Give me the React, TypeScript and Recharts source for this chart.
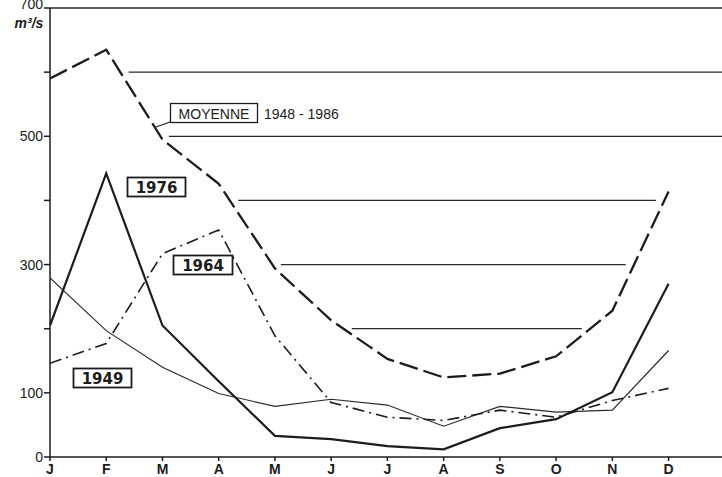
import React from 'react';
import { LineChart, Line, XAxis, YAxis, ReferenceLine } from 'recharts';

const months = ['J', 'F', 'M', 'A', 'M', 'J', 'J', 'A', 'S', 'O', 'N', 'D'];
const moyenne = [590, 635, 495, 426, 294, 213, 153, 124, 130, 157, 228, 414];
const y1976 = [205, 442, 205, 118, 33, 28, 17, 12, 45, 59, 101, 270];
const y1964 = [146, 177, 317, 354, 189, 85, 62, 57, 73, 62, 88, 107];
const y1949 = [279, 197, 140, 99, 79, 90, 81, 48, 79, 70, 73, 166];
const yTicks = [0, 100, 200, 300, 400, 500, 600, 700];
const yLabelled = [0, 100, 300, 500, 700];
const gridLevels = [600, 500, 400, 300, 200];
const TOP_LEVEL = 700;

const X_MAX = 11.95;
const GAP = 0.15;

const data = months.map((m, i) => ({
  i,
  moyenne: moyenne[i],
  y1976: y1976[i],
  y1964: y1964[i],
  y1949: y1949[i],
}));

// intervals (in month-index units) where the mean curve lies below a level
function intervalsBelow(series: number[], level: number) {
  const out: { a: number; b: number; aCross: boolean; bCross: boolean }[] = [];
  let start: number | null = series[0] < level ? 0 : null;
  let startCross = false;
  for (let k = 0; k < series.length - 1; k++) {
    const v0 = series[k];
    const v1 = series[k + 1];
    if ((v0 < level) !== (v1 < level)) {
      const t = k + (v0 - level) / (v0 - v1);
      if (v1 < level) {
        start = t;
        startCross = true;
      } else if (start !== null) {
        out.push({ a: start, b: t, aCross: startCross, bCross: true });
        start = null;
      }
    }
  }
  if (start !== null) out.push({ a: start, b: X_MAX, aCross: startCross, bCross: false });
  return out.filter((s) => s.b - s.a > 1);
}

const segments = gridLevels.flatMap((lvl) =>
  intervalsBelow(moyenne, lvl).map((s) => ({
    lvl,
    a: s.aCross ? s.a + GAP : s.a,
    b: s.bCross ? s.b - GAP : s.b,
  }))
);

const FONT = '"Liberation Sans", Arial, sans-serif';
const INK = '#1c1c1c';

const YTick = (props: any) => {
  const { x, y, payload } = props;
  if (!yLabelled.includes(payload.value)) return null;
  return (
    <text x={x} y={y} dy={payload.value === 700 ? 0 : 5} textAnchor="end" fontFamily={FONT} fontSize={14} fill={INK}>
      {payload.value}
    </text>
  );
};

const XTick = (props: any) => {
  const { x, y, payload } = props;
  return (
    <text x={x} y={y} dy={11} textAnchor="middle" fontFamily={FONT} fontSize={14} fontWeight="bold" fill={INK}>
      {months[payload.value]}
    </text>
  );
};

export default function App() {
  return (
    <div style={{ position: 'absolute', left: 0, top: 0, width: 722, height: 477, background: '#fff' }}>
      <LineChart width={722} height={477} data={data} margin={{ top: 8, right: 0, bottom: 0, left: 0 }}>
        <XAxis
          dataKey="i"
          type="number"
          domain={[0, X_MAX]}
          ticks={months.map((_, i) => i)}
          allowDataOverflow
          height={20}
          tickSize={4}
          tickLine={{ stroke: INK, strokeWidth: 1.5 }}
          axisLine={{ stroke: INK, strokeWidth: 1.5 }}
          tick={<XTick />}
        />
        <YAxis
          type="number"
          domain={[0, 700]}
          ticks={yTicks}
          width={50}
          tickSize={6}
          tickMargin={1}
          tickLine={{ stroke: INK, strokeWidth: 1.5 }}
          axisLine={{ stroke: INK, strokeWidth: 1.5 }}
          tick={<YTick />}
        />
        <ReferenceLine y={TOP_LEVEL} stroke="#2a2a2a" strokeWidth={1.6} ifOverflow="visible" />
        {segments.map((s, k) => (
          <ReferenceLine
            key={k}
            segment={[
              { x: s.a, y: s.lvl },
              { x: s.b, y: s.lvl },
            ]}
            stroke="#2a2a2a"
            strokeWidth={1.3}
            ifOverflow="visible"
          />
        ))}
        <Line dataKey="y1949" stroke="#2a2a2a" strokeWidth={1.2} dot={false} isAnimationActive={false} />
        <Line dataKey="y1964" stroke={INK} strokeWidth={1.6} strokeDasharray="12 5 2 5" dot={false} isAnimationActive={false} />
        <Line dataKey="y1976" stroke={INK} strokeWidth={2.2} dot={false} isAnimationActive={false} />
        <Line dataKey="moyenne" stroke={INK} strokeWidth={2.3} strokeDasharray="19 6" dot={false} isAnimationActive={false} />
      </LineChart>
      <svg width={722} height={477} style={{ position: 'absolute', left: 0, top: 0, pointerEvents: 'none' }}>
        <text x={29} y={28} textAnchor="middle" fontFamily={FONT} fontSize={14} fontStyle="italic" fontWeight="bold" fill={INK}>
          m³/s
        </text>
        <line x1={170} y1={122} x2={156} y2={127} stroke={INK} strokeWidth={1.3} />
        <rect x={170.5} y={103.5} width={87} height={19} fill="#fff" stroke={INK} strokeWidth={1.3} />
        <text x={214} y={119} textAnchor="middle" fontFamily={FONT} fontSize={14} fill={INK}>MOYENNE</text>
        <text x={264} y={119} fontFamily={FONT} fontSize={14} fill={INK}>1948 - 1986</text>

        <rect x={127.5} y={177.5} width={58} height={19} fill="#fff" stroke={INK} strokeWidth={1.8} />
        <text x={156.5} y={193} textAnchor="middle" fontFamily='"DejaVu Sans", sans-serif' fontSize={15} fontWeight="bold" fill={INK}>1976</text>

        <rect x={173.5} y={255.5} width={59} height={19} fill="#fff" stroke={INK} strokeWidth={1.8} />
        <text x={203} y={271} textAnchor="middle" fontFamily='"DejaVu Sans", sans-serif' fontSize={15} fontWeight="bold" fill={INK}>1964</text>

        <rect x={73.5} y={368.5} width={58} height={19} fill="#fff" stroke={INK} strokeWidth={1.8} />
        <text x={102.5} y={384} textAnchor="middle" fontFamily='"DejaVu Sans", sans-serif' fontSize={15} fontWeight="bold" fill={INK}>1949</text>
      </svg>
    </div>
  );
}
